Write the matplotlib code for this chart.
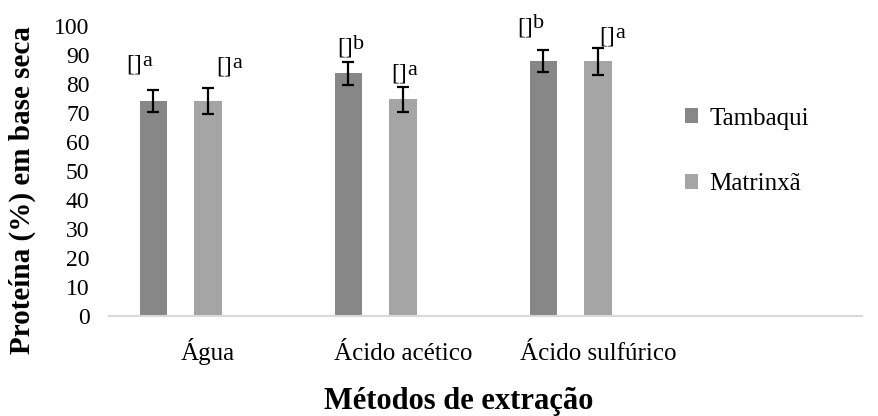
import numpy as np
import matplotlib
matplotlib.use("Agg")
import matplotlib.pyplot as plt

# protein content (% dry basis) by extraction method
metodos = ["Água", "Ácido acético", "Ácido sulfúrico"]
tambaqui = [74.1, 83.7, 87.8]
tambaqui_err = [3.8, 4.0, 3.8]
matrinxa = [74.1, 74.7, 87.8]
matrinxa_err = [4.5, 4.4, 4.7]
letras_tambaqui = ["a", "b", "b"]
letras_matrinxa = ["a", "a", "a"]

plt.rcParams["font.family"] = ["Liberation Serif", "DejaVu Serif"]

fig = plt.figure(figsize=(8.79, 4.16), dpi=100)
ax = fig.add_axes([109 / 879, (416 - 315.5) / 416, (862 - 109) / 879, (315.5 - 26) / 416])

x = np.arange(len(metodos))
w = 0.14
x_t = x - 0.28
x_m = x

err_kw = dict(ecolor="black", elinewidth=1.6, capsize=4.3, capthick=1.6)
ax.bar(x_t, tambaqui, w, yerr=tambaqui_err, color="#878787", label="Tambaqui", error_kw=err_kw, zorder=2)
ax.bar(x_m, matrinxa, w, yerr=matrinxa_err, color="#a5a5a5", label="Matrinxã", error_kw=err_kw, zorder=2)

# letter labels above each bar (pixel offsets from top of error bar)
off_t = [(-27, 19), (-11, 8), (-26, 17)]
off_m = [(8, 15), (-12, 7), (1, 5)]
for xs, vals, errs, letras, offs in [(x_t, tambaqui, tambaqui_err, letras_tambaqui, off_t),
                                     (x_m, matrinxa, matrinxa_err, letras_matrinxa, off_m)]:
    for xi, v, e, l, (dx, dy) in zip(xs, vals, errs, letras, offs):
        ax.annotate("[]", (xi, v + e), xytext=(dx, dy), textcoords="offset pixels",
                    ha="left", va="baseline", fontsize=17)
        ax.annotate(l, (xi, v + e), xytext=(dx + 16, dy + 5), textcoords="offset pixels",
                    ha="left", va="baseline", fontsize=16)

ax.set_xlim(-0.508, 3.354)
ax.set_ylim(0, 100)
ax.set_yticks(range(0, 101, 10))
ax.set_xticks(x)
ax.set_xticklabels(metodos)
ax.tick_params(axis="both", length=0, labelsize=17)
ax.tick_params(axis="y", pad=14)
ax.tick_params(axis="x", pad=32, labelsize=18)
for lbl in ax.get_xticklabels():
    lbl.set_va("baseline")

for s in ["top", "right", "left"]:
    ax.spines[s].set_visible(False)
ax.spines["bottom"].set_color("#d9d9d9")
ax.spines["bottom"].set_linewidth(1.5)

fig.text(22 / 879, 1 - 190 / 416, "Proteína (%) em base seca", rotation=90,
         ha="center", va="center", fontsize=21, fontweight="bold")
fig.text(459 / 879, 1 - 401 / 416, "Métodos de extração",
         ha="center", va="center", fontsize=22, fontweight="bold")

ax.legend(loc="upper left", bbox_to_anchor=(672 / 879, 1 - 95 / 416), bbox_transform=fig.transFigure,
          frameon=False, fontsize=18, handlelength=0.55, handleheight=0.55,
          handletextpad=0.45, labelspacing=1.75, borderpad=0)

fig.savefig("out.png", dpi=100)
